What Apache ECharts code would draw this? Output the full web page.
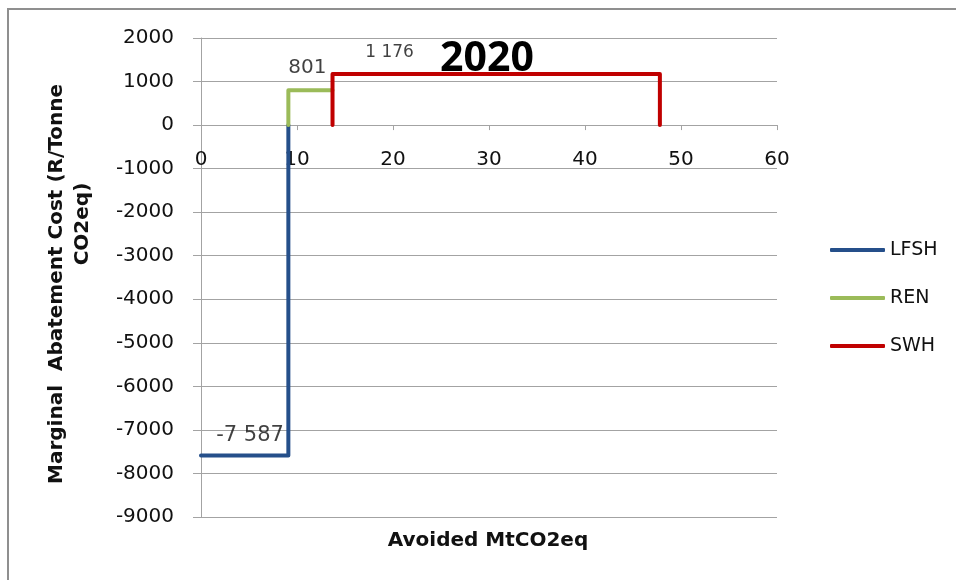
<!DOCTYPE html>
<html>
<head>
<meta charset="utf-8">
<title>Marginal Abatement Cost 2020</title>
<script src="https://cdn.jsdelivr.net/npm/echarts@6/dist/echarts.min.js"></script>
<style>
  html, body { margin: 0; padding: 0; background: #fff; overflow: hidden; }
  #chart { width: 956px; height: 580px; }
</style>
</head>
<body>
<div id="chart"></div>
<script>
// Abatement options, in order along the curve
const projects = ['LFSH', 'REN', 'SWH'];
// Avoided emissions of each option (MtCO2eq) = width of each step
const avoided = [9.1, 4.6, 34.1];
// Marginal abatement cost of each option (R/Tonne CO2eq) = height of each step
const costs = [-7587, 801, 1176];
const colors = ['#254f8a', '#9bbb59', '#c00000'];

// Axis ranges
const xRange = { min: 0, max: 60, interval: 10 };
const yRange = { min: -9000, max: 2000, interval: 1000 };

const FONT = '"DejaVu Sans", "Liberation Sans", sans-serif';
const TITLE_FONT = '"Open Sans", "DejaVu Sans", sans-serif';
const TEXT = '#111111';
const GRID = '#a3a3a3';

// Plot area
const GRID_BOX = { left: 201, right: 179, top: 38, bottom: 63 };
const CHART_W = 956;
const CHART_H = 580;

// "-7587" -> "-7 587"
function spaced(v) {
  const s = String(Math.abs(v)).replace(/\B(?=(\d{3})+(?!\d))/g, ' ');
  return (v < 0 ? '-' : '') + s;
}

// Build the step outline of each option from cumulative widths.
// A step drops back to zero at its right edge unless the next step's
// riser already covers that stretch.
const steps = [];
let start = 0;
projects.forEach((p, i) => {
  const end = start + avoided[i];
  const c = costs[i];
  const pts = [];
  if (start > 0) pts.push([start, 0]);
  pts.push([start, c], [end, c]);
  const next = costs[i + 1];
  const covered = next !== undefined && Math.sign(next) === Math.sign(c) && Math.abs(next) >= Math.abs(c);
  if (!covered) pts.push([end, 0]);
  steps.push({ name: p, start: start, end: end, cost: c, points: pts });
  start = end;
});

// The horizontal axis runs along cost = 0: lift it from the bottom edge
const plotH = CHART_H - GRID_BOX.top - GRID_BOX.bottom;
const zeroLift = (0 - yRange.min) / (yRange.max - yRange.min) * plotH;

// Where each value label sits relative to the start of its step (pixels)
const labelStyle = [
  { offset: [49, -20], size: 21 },
  { offset: [19, -22], size: 20 },
  { offset: [57, -21], size: 17 }
];

const lineSeries = steps.map((s, i) => ({
  name: s.name,
  type: 'line',
  data: s.points,
  symbol: 'none',
  z: 3 + i,
  lineStyle: { color: colors[i], width: 4, cap: 'round', join: 'round' },
  itemStyle: { color: colors[i] },
  animation: false
}));

const labelSeries = {
  name: 'values',
  type: 'scatter',
  symbolSize: 0,
  silent: true,
  z: 10,
  animation: false,
  data: steps.map((s, i) => ({
    value: [s.start, s.cost],
    label: {
      show: true,
      position: 'inside',
      offset: labelStyle[i].offset,
      fontSize: labelStyle[i].size,
      fontFamily: FONT,
      color: TEXT,
      formatter: () => spaced(s.cost)
    }
  }))
};

const chart = echarts.init(document.getElementById('chart'), null, { renderer: 'canvas' });
chart.setOption({
  animation: false,
  backgroundColor: '#ffffff',
  grid: Object.assign({ containLabel: false }, GRID_BOX),
  xAxis: {
    type: 'value',
    position: 'bottom',
    offset: -zeroLift,
    min: xRange.min, max: xRange.max, interval: xRange.interval,
    axisLine: { onZero: false, lineStyle: { color: GRID, width: 1 } },
    axisTick: { show: true, length: 5, lineStyle: { color: GRID } },
    axisLabel: { margin: 25, fontSize: 20, fontFamily: FONT, color: TEXT, formatter: v => String(v) },
    splitLine: { show: false }
  },
  yAxis: {
    type: 'value',
    min: yRange.min, max: yRange.max, interval: yRange.interval,
    axisLine: { show: true, onZero: false, lineStyle: { color: GRID, width: 1 } },
    axisTick: { show: true, length: 8, lineStyle: { color: GRID } },
    axisLabel: { margin: 27, fontSize: 20, fontFamily: FONT, color: TEXT, formatter: v => String(v) },
    splitLine: { show: true, lineStyle: { color: GRID, width: 1 } }
  },
  legend: {
    data: projects,
    orient: 'vertical',
    left: 830,
    top: 240,
    padding: 0,
    icon: 'roundRect',
    itemWidth: 55,
    itemHeight: 4,
    itemGap: 28,
    selectedMode: false,
    textStyle: { fontSize: 19, lineHeight: 20, fontFamily: FONT, color: TEXT, padding: [0, 0, 0, 0] }
  },
  graphic: [
    {
      // chart frame: only its left and top edges fall inside the view
      type: 'polyline',
      silent: true,
      shape: { points: [[8, CHART_H], [8, 9], [CHART_W, 9]] },
      style: { fill: null, stroke: '#8f8f8f', lineWidth: 2, lineCap: 'butt', lineJoin: 'miter' }
    },
    {
      type: 'text',
      x: 487, y: 59,
      style: { text: '2020', font: 'bold 41px ' + TITLE_FONT, fill: '#000', align: 'center', verticalAlign: 'middle' }
    },
    {
      type: 'text',
      x: 488, y: 541,
      style: { text: 'Avoided MtCO2eq', font: 'bold 20px ' + FONT, fill: TEXT, align: 'center', verticalAlign: 'middle' }
    },
    {
      type: 'text',
      x: 57, y: 284, rotation: Math.PI / 2,
      style: { text: 'Marginal  Abatement Cost (R/Tonne', font: 'bold 20px ' + FONT, fill: TEXT, align: 'center', verticalAlign: 'middle' }
    },
    {
      type: 'text',
      x: 83, y: 224, rotation: Math.PI / 2,
      style: { text: 'CO2eq)', font: 'bold 20px ' + FONT, fill: TEXT, align: 'center', verticalAlign: 'middle' }
    }
  ],
  series: lineSeries.concat([labelSeries])
});
</script>
</body>
</html>
